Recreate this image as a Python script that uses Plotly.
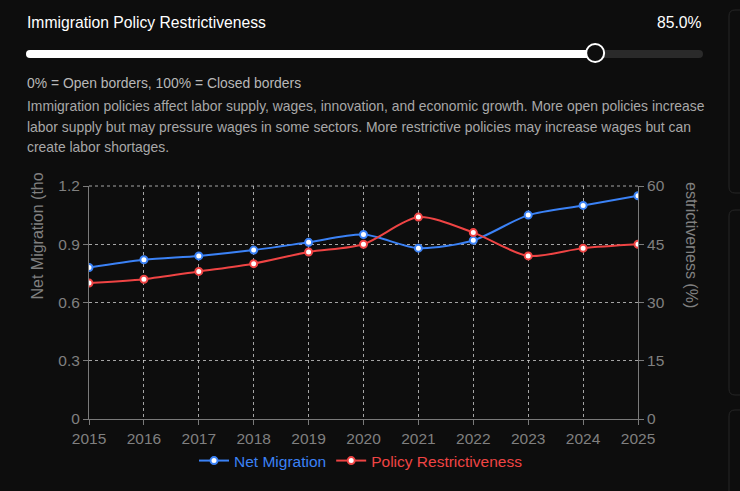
import plotly.graph_objects as go

W, H = 740, 491
BG = "#0d0d0d"

years = [2015, 2016, 2017, 2018, 2019, 2020, 2021, 2022, 2023, 2024, 2025]
net_migration = [0.78, 0.82, 0.84, 0.87, 0.91, 0.95, 0.88, 0.92, 1.05, 1.10, 1.15]
restrictiveness = [35, 36, 38, 40, 43, 45, 52, 48, 42, 44, 45]
left_ticks = [0, 0.3, 0.6, 0.9, 1.2]
right_ticks = [0, 15, 30, 45, 60]
slider_value = 85.0

BLUE = "#3b82f6"
RED = "#ef4444"
font = "Liberation Sans, Arial"


def px_x(p):
    return p / W


def px_y(p):
    return 1 - p / H


def rounded_rect(x0, y0, x1, y1, r):
    # pixel coords in, paper path out
    X = lambda v: f"{px_x(v):.5f}"
    Y = lambda v: f"{px_y(v):.5f}"
    return (f"M {X(x0 + r)},{Y(y0)} L {X(x1 - r)},{Y(y0)} "
            f"Q {X(x1)},{Y(y0)} {X(x1)},{Y(y0 + r)} L {X(x1)},{Y(y1 - r)} "
            f"Q {X(x1)},{Y(y1)} {X(x1 - r)},{Y(y1)} L {X(x0 + r)},{Y(y1)} "
            f"Q {X(x0)},{Y(y1)} {X(x0)},{Y(y1 - r)} L {X(x0)},{Y(y0 + r)} "
            f"Q {X(x0)},{Y(y0)} {X(x0 + r)},{Y(y0)} Z")


fig = go.Figure()

fig.add_trace(go.Scatter(
    x=years, y=net_migration,
    name=f"<span style='color:{BLUE}'>Net Migration</span>",
    mode="lines+markers", line=dict(color=BLUE, width=2, shape="spline", smoothing=0.8),
    marker=dict(size=7, color="white", line=dict(color=BLUE, width=2)),
    yaxis="y",
))
fig.add_trace(go.Scatter(
    x=years, y=restrictiveness,
    name=f"<span style='color:{RED}'>Policy Restrictiveness</span>",
    mode="lines+markers", line=dict(color=RED, width=2, shape="spline", smoothing=0.8),
    marker=dict(size=7, color="white", line=dict(color=RED, width=2)),
    yaxis="y2",
))

# plot area in pixels
pl, pr, pt, pb = 89, 638, 186, 419
GRID = "rgba(215,215,215,0.75)"
grid = dict(showgrid=True, gridcolor=GRID, griddash="3px,3px", gridwidth=1)
tickfont = dict(family=font, size=15.5, color="#808080")
axis_common = dict(tickfont=tickfont, showline=True, linecolor="#7a7a7a", ticks="outside",
                   ticklen=5, tickcolor="#7a7a7a", zeroline=False, automargin=False)

fig.update_layout(
    width=W, height=H,
    paper_bgcolor=BG, plot_bgcolor=BG,
    margin=dict(l=0, r=0, t=0, b=0),
    showlegend=True,
    legend=dict(orientation="h", x=px_x(361), xanchor="center", y=px_y(461), yanchor="middle",
                font=dict(family=font, size=15.5, color="#cccccc"),
                itemwidth=30, bgcolor="rgba(0,0,0,0)"),
    xaxis=dict(domain=[px_x(pl), px_x(pr)], range=[2015, 2025], tickvals=years,
               **axis_common, **grid),
    yaxis=dict(domain=[px_y(pb), px_y(pt)], range=[0, 1.2], tickvals=left_ticks,
               ticktext=["0", "0.3", "0.6", "0.9", "1.2"], **axis_common, **grid),
    yaxis2=dict(overlaying="y", side="right", range=[0, 60], tickvals=right_ticks,
                showgrid=False, **axis_common),
)

# header / slider
track_l, track_r, track_y = 26, 703, 54
knob_r = 9
knob_x = track_l + knob_r + slider_value / 100 * (track_r - track_l - 2 * knob_r)

shapes = [
    dict(type="path", path=rounded_rect(track_l, track_y - 4, track_r, track_y + 4, 4),
         fillcolor="#2a2a2a", line=dict(width=0)),
    dict(type="path", path=rounded_rect(track_l, track_y - 4, knob_x, track_y + 4, 4),
         fillcolor="#ffffff", line=dict(width=0)),
    dict(type="circle",
         x0=px_x(knob_x - knob_r), x1=px_x(knob_x + knob_r),
         y0=px_y(track_y - 1 + knob_r), y1=px_y(track_y - 1 - knob_r),
         fillcolor=BG, line=dict(color="#ffffff", width=2)),
    # dashed top border of the chart
    dict(type="line", x0=px_x(pl), x1=px_x(pr), y0=px_y(pt), y1=px_y(pt),
         line=dict(color=GRID, width=1, dash="3px,3px")),
    # side cards on the right edge
    dict(type="path", path=rounded_rect(729, 10, 770, 193, 6),
         fillcolor=BG, line=dict(color="#262626", width=1)),
    dict(type="path", path=rounded_rect(729, 210, 770, 395, 6),
         fillcolor=BG, line=dict(color="#262626", width=1)),
    dict(type="path", path=rounded_rect(729, 410, 770, 530, 6),
         fillcolor=BG, line=dict(color="#262626", width=1)),
]
for s in shapes:
    s.update(xref="paper", yref="paper")
fig.update_layout(shapes=shapes)

paragraph = ["Immigration policies affect labor supply, wages, innovation, and economic growth. More open policies increase",
             "labor supply but may pressure wages in some sectors. More restrictive policies may increase wages but can",
             "create labor shortages."]
annotations = [
    dict(text="Immigration Policy Restrictiveness", x=px_x(25), y=px_y(22), xanchor="left",
         yanchor="middle", font=dict(family=font, size=15.7, color="#ffffff")),
    dict(text=f"{slider_value:.1f}%", x=px_x(704), y=px_y(22), xanchor="right",
         yanchor="middle", font=dict(family=font, size=15.7, color="#ffffff")),
    dict(text="0% = Open borders, 100% = Closed borders", x=px_x(25), y=px_y(83),
         xanchor="left", yanchor="middle", font=dict(family=font, size=13.9, color="#b8b8b8")),
    dict(text="Net Migration (tho", x=px_x(37), y=px_y(302), xanchor="center", yanchor="bottom",
         textangle=-90, font=dict(family=font, size=16, color="#808080")),
    dict(text="estrictiveness (%)", x=px_x(692), y=px_y(180), xanchor="center", yanchor="top",
         textangle=90, font=dict(family=font, size=16, color="#808080")),
]
for i, line in enumerate(paragraph):
    annotations.append(dict(text=line, x=px_x(25), y=px_y(106 + i * 20.5), xanchor="left",
                            yanchor="middle", font=dict(family=font, size=13.9, color="#a8a8a8")))
for a in annotations:
    a.update(xref="paper", yref="paper", showarrow=False)
fig.update_layout(annotations=annotations)

fig.write_html("out.html", config={"displayModeBar": False},
               post_script="document.body.style.margin='0';document.body.style.background='#0d0d0d';")
